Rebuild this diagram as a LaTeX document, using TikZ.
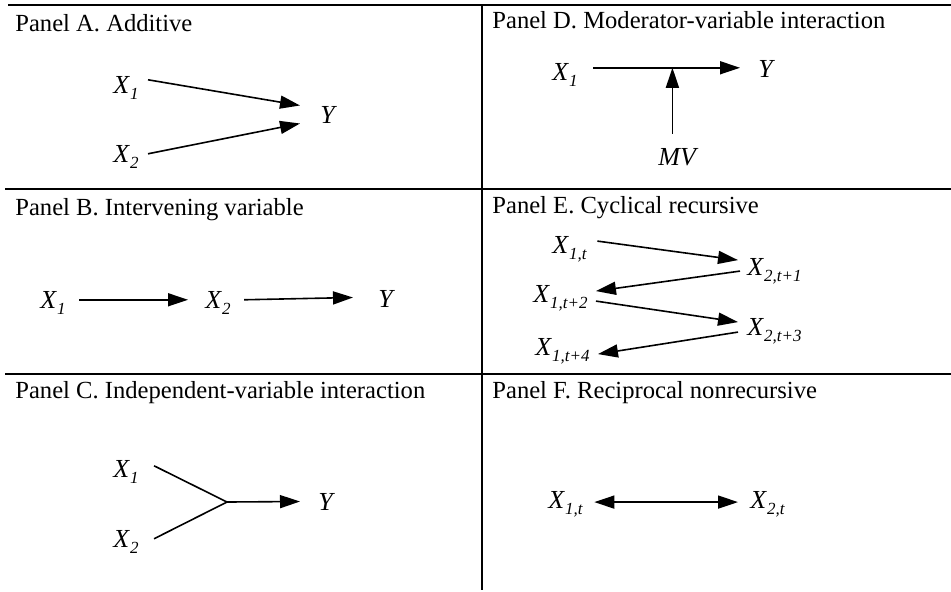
\documentclass[tikz,border=0pt]{standalone}
\usepackage{fontspec}
\setmainfont{Liberation Serif}
\usetikzlibrary{arrows.meta, calc}
\newcommand{\vx}[1]{\textit{X}\raisebox{-0.55ex}{\fontsize{8.5}{9}\selectfont\textit{#1}}}
\tikzset{
  var/.style={inner sep=0pt, anchor=base west, font=\fontsize{13}{15}\selectfont},
  ttl/.style={inner sep=0pt, anchor=base west},
  arr/.style={-{Triangle[length=10pt, width=6.5pt]}, line width=0.8pt},
  biarr/.style={{Triangle[length=10pt, width=6.5pt]}-{Triangle[length=10pt, width=6.5pt]}, line width=0.8pt},
  panelrule/.style={line width=0.8pt},
}

\begin{document}
\begin{tikzpicture}[x=0.5pt, y=-0.5pt, font=\fontsize{12.3}{14}\selectfont]
    \useasboundingbox (0,0) rectangle (951,591);
    \draw[panelrule] (8,5) -- (951,5);
    \draw[panelrule] (5,189) -- (951,189);
    \draw[panelrule] (5,374) -- (951,374);
    \draw[panelrule] (482,5) -- (482,590);
    \node[ttl] (ta) at (15,31) {Panel A. Additive};
    \node[ttl] (tb) at (15,215) {Panel B. Intervening variable};
    \node[ttl] (tc) at (15,398) {Panel C. Independent-variable interaction};
    \node[ttl] (td) at (492,28) {Panel D. Moderator-variable interaction};
    \node[ttl] (te) at (492,213) {Panel E. Cyclical recursive};
    \node[ttl] (tf) at (492,398) {Panel F. Reciprocal nonrecursive};
    % panel A
    \node[var] (ax1) at (113,93) {\vx{1}};
    \node[var] (ax2) at (113,162) {\vx{2}};
    \node[var] (ay) at (320,123) {\textit{Y}};
    \draw[arr] ($(ax1.east)+(9,-8)$) -- ($(ay.west)+(-20,-9)$);
    \draw[arr] ($(ax2.east)+(9,-3)$) -- ($(ay.west)+(-20,9)$);
    % panel B
    \node[var] (bx1) at (40,308) {\vx{1}};
    \node[var] (bx2) at (205,308) {\vx{2}};
    \node[var] (by) at (378,307) {\textit{Y}};
    \draw[arr] ($(bx1.east)+(13,-3)$) -- ($(bx2.west)+(-17,-3)$);
    \draw[arr] ($(bx2.east)+(13,-3)$) -- ($(by.west)+(-25,-1)$);
    % panel C
    \node[var] (cx1) at (113,477) {\vx{1}};
    \node[var] (cx2) at (113,547) {\vx{2}};
    \node[var] (cy) at (318,510) {\textit{Y}};
    \coordinate (cj) at (227,502);
    \draw[line width=0.8pt] ($(cx1.east)+(15,-6)$) -- (cj) -- ($(cx2.east)+(15,-3)$);
    \draw[arr] (cj) -- ($(cy.west)+(-18,0)$);
    % panel D
    \node[var] (dx1) at (552,80) {\vx{1}};
    \node[var] (dy) at (758,77) {\textit{Y}};
    \node[var] (dmv) at (658,165) {\textit{MV}};
    \coordinate (ds) at ($(dx1.east)+(15,-7)$);
    \coordinate (de) at ($(ds -| dy.west)+(-18,0)$);
    \coordinate (dm) at ($(dmv.north)+(-6,-14)$);
    \draw[arr] (ds) -- (de);
    \draw[arr] (dm) -- (dm |- ds);
    % panel E
    \node[var] (e1) at (552,253) {\vx{1,t}};
    \node[var] (e2) at (747,275) {\vx{2,t+1}};
    \node[var] (e3) at (533,302) {\vx{1,t+2}};
    \node[var] (e4) at (747,335) {\vx{2,t+3}};
    \node[var] (e5) at (535,355) {\vx{1,t+4}};
    \draw[arr] ($(e1.east)+(10,-8)$) -- ($(e2.west)+(-9,-11)$);
    \draw[arr] ($(e2.west)+(-7,0)$) -- ($(e3.east)+(8,-7)$);
    \draw[arr] ($(e3.east)+(8,3)$) -- ($(e4.west)+(-9,-9)$);
    \draw[arr] ($(e4.west)+(-9,1)$) -- ($(e5.east)+(8,3)$);
    % panel F
    \node[var] (f1) at (548,508) {\vx{1,t}};
    \node[var] (f2) at (750,508) {\vx{2,t}};
    \draw[biarr] ($(f1.east)+(11,-2)$) -- ($(f2.west)+(-12,-2)$);
\end{tikzpicture}
\end{document}
